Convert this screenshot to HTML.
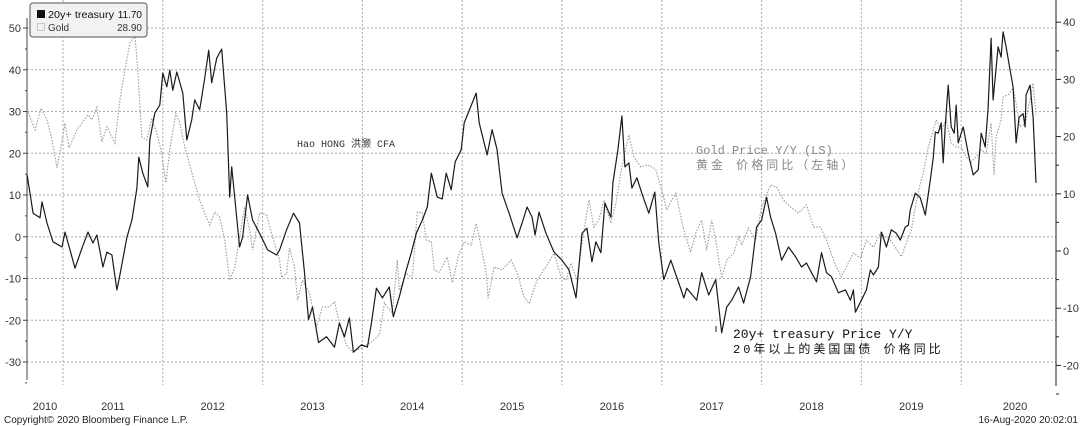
<!DOCTYPE html>
<html><head><meta charset="utf-8">
<style>
html,body{margin:0;padding:0;background:#fff;}
svg{display:block;font-family:"Liberation Sans","Noto Sans CJK SC",sans-serif;}
.mono{font-family:"Liberation Mono","Noto Sans CJK SC",monospace;}
</style></head>
<body>
<svg id="chart" width="1080" height="426" viewBox="0 0 1080 426">
  <g id="grid"></g>
  <g id="axes"></g>
  <g id="series"></g>
  <g>
    <rect x="30" y="3" width="117" height="34" rx="3" fill="#f2f2f2" stroke="#555" stroke-width="1"/>
    <rect x="37" y="10" width="8" height="8" fill="#111"/>
    <text x="48" y="18" font-size="10" fill="#111" textLength="66" lengthAdjust="spacingAndGlyphs">20y+ treasury</text>
    <text x="142" y="18" font-size="10" fill="#111" text-anchor="end">11.70</text>
    <rect x="37.5" y="23.5" width="7" height="7" fill="none" stroke="#999" stroke-dasharray="1 1"/>
    <text x="48" y="31" font-size="10" fill="#333">Gold</text>
    <text x="142" y="31" font-size="10" fill="#333" text-anchor="end">28.90</text>
  </g>
  <text class="mono" x="297" y="147" font-size="10" fill="#333">Hao HONG 洪灏 CFA</text>
  <text class="mono" x="696" y="154" font-size="12" fill="#888">Gold Price Y/Y (LS)</text>
  <text class="mono" x="696" y="169" font-size="12" fill="#888" letter-spacing="3">黄金 价格同比（左轴）</text>
  <line x1="716" y1="326" x2="716" y2="332" stroke="#222"/>
  <text class="mono" x="733" y="338" font-size="13" fill="#111">20y+ treasury Price Y/Y</text>
  <text class="mono" x="733" y="353" font-size="12" fill="#111" letter-spacing="3">20年以上的美国国债 价格同比</text>
  <text x="4" y="423" font-size="10" fill="#222">Copyright© 2020 Bloomberg Finance L.P.</text>
  <text x="1078" y="423" font-size="10" fill="#222" text-anchor="end">16-Aug-2020 20:02:01</text>
</svg>
<script>
// years since 2010 (fractional)
const treasuryTimes = [0.64,0.70,0.77,0.79,0.84,0.90,0.99,1.02,1.07,1.12,1.19,1.25,1.30,1.34,1.40,1.44,1.49,1.54,1.57,1.64,1.69,1.74,1.76,1.80,1.85,1.87,1.92,1.97,2.00,2.04,2.07,2.10,2.14,2.20,2.24,2.29,2.32,2.37,2.42,2.46,2.49,2.54,2.59,2.64,2.67,2.69,2.77,2.80,2.85,2.90,2.97,3.05,3.14,3.17,3.24,3.31,3.37,3.42,3.46,3.50,3.56,3.64,3.72,3.77,3.82,3.87,3.91,3.99,4.05,4.09,4.14,4.20,4.27,4.31,4.37,4.44,4.49,4.54,4.60,4.65,4.69,4.75,4.80,4.84,4.89,4.93,4.99,5.02,5.08,5.14,5.17,5.25,5.30,5.35,5.40,5.47,5.55,5.60,5.65,5.70,5.73,5.77,5.84,5.92,6.00,6.07,6.14,6.20,6.25,6.30,6.34,6.39,6.43,6.49,6.51,6.56,6.60,6.63,6.67,6.70,6.75,6.80,6.87,6.93,6.97,7.02,7.09,7.17,7.22,7.25,7.35,7.40,7.47,7.54,7.60,7.65,7.70,7.77,7.82,7.89,7.95,8.00,8.05,8.09,8.14,8.20,8.27,8.34,8.40,8.45,8.50,8.55,8.60,8.65,8.70,8.77,8.84,8.89,8.92,8.94,9.00,9.05,9.09,9.12,9.17,9.20,9.25,9.30,9.35,9.39,9.44,9.47,9.49,9.54,9.59,9.64,9.69,9.72,9.74,9.77,9.80,9.82,9.84,9.87,9.90,9.93,9.95,9.97,10.02,10.07,10.12,10.17,10.20,10.24,10.27,10.30,10.32,10.37,10.40,10.42,10.45,10.49,10.52,10.55,10.58,10.62,10.64,10.65,10.69,10.72,10.75];
const treasuryValues = [13.3,6.6,5.8,8.6,4.9,1.6,0.7,3.3,0.2,-3,0.5,3.3,1.4,2.8,-2.8,-0.2,-0.7,-6.8,-4.2,2.4,5.4,11,16.4,13.6,11.2,19.4,24.1,25.5,31.1,28.7,31.6,28.1,31.3,27.6,19.4,22.9,26.4,24.7,30.2,35.1,29.4,33.7,35.3,24.1,9.4,14.7,0.7,2.4,9.8,5.4,3.1,0.2,-0.7,0.2,3.7,6.6,4.9,-3.8,-12,-9.8,-16,-15,-16.8,-12.6,-15,-11.7,-17.7,-16.4,-16.8,-12.6,-6.5,-8.2,-6.3,-11.5,-8,-3.3,-0.3,3.1,5.4,7.7,13.6,9.4,9.1,13.6,10.7,15.6,17.7,22.4,25,27.6,22.4,16.8,21.2,17.7,10.1,6.6,2.3,4.9,7.7,5.9,2.8,6.8,3.1,-0.2,-1.6,-3.3,-8.2,3.1,4,-1.9,1.6,-0.3,8.4,5.9,11.9,17.7,23.6,14.7,15.4,11,12.8,10.1,6.6,10.3,1.4,-5,-1.6,-5.6,-8.2,-6.5,-8.6,-3.8,-7.7,-5,-14.3,-9.8,-8.6,-6.3,-9.1,-4.5,4.2,5.4,9.4,5.9,3.1,-1.6,0.7,-1,-2.8,-2.1,-3.8,-5.4,-0.3,-3.8,-4.5,-7.3,-6.8,-8.6,-6.8,-10.7,-8.6,-6.8,-3.3,-4.2,-2.8,3.3,0.7,3.7,3.1,1.9,4.2,4.5,7.2,10.1,9.3,6.3,12.4,16.4,20.8,20.6,22.4,15.4,21.7,29,21.7,20.6,25.5,18.9,21.7,17.1,13.3,14.2,20.6,18.2,25,37.2,26.4,35.7,33.9,38.3,35.7,31.6,28.7,18.9,23.4,24,21.7,27.3,29,23.4,11.9];
const goldTimes = [0.64,0.72,0.78,0.84,0.89,0.94,0.99,1.02,1.06,1.14,1.20,1.25,1.29,1.34,1.39,1.44,1.52,1.57,1.62,1.67,1.72,1.75,1.79,1.84,1.89,1.94,1.99,2.03,2.07,2.13,2.17,2.22,2.27,2.32,2.37,2.42,2.47,2.52,2.57,2.62,2.67,2.72,2.77,2.82,2.87,2.90,2.97,3.04,3.10,3.17,3.19,3.24,3.27,3.32,3.35,3.40,3.47,3.54,3.60,3.67,3.72,3.77,3.84,3.90,3.99,4.09,4.17,4.22,4.30,4.35,4.37,4.44,4.50,4.55,4.60,4.64,4.69,4.72,4.77,4.85,4.90,4.97,5.02,5.09,5.14,5.19,5.24,5.26,5.32,5.40,5.49,5.55,5.62,5.67,5.75,5.84,5.92,5.99,6.04,6.09,6.15,6.20,6.27,6.32,6.37,6.42,6.49,6.54,6.60,6.67,6.72,6.79,6.85,6.92,6.94,7.00,7.05,7.10,7.14,7.22,7.29,7.34,7.40,7.45,7.50,7.54,7.60,7.65,7.72,7.77,7.80,7.87,7.94,8.00,8.09,8.15,8.22,8.29,8.37,8.45,8.52,8.59,8.65,8.74,8.80,8.87,8.92,8.99,9.05,9.12,9.19,9.24,9.29,9.34,9.40,9.45,9.50,9.54,9.59,9.62,9.67,9.72,9.75,9.80,9.85,9.90,9.95,10.00,10.05,10.10,10.15,10.20,10.25,10.30,10.33,10.35,10.40,10.42,10.47,10.52,10.55,10.59,10.64,10.69,10.72,10.75];
const goldValues = [30.4,25.6,30.8,28,23.2,16.5,23,27.2,21.3,25.6,27.6,29.2,28,31,22.7,26.3,22.4,32.8,39.9,46.4,48.3,39.9,23.9,23.2,28.4,24.8,20,12.9,20.8,29.6,27.2,21.5,17.2,12.9,8.8,5.7,2.8,5.9,4.7,-0.8,-10.4,-7.5,0,7.1,1.6,-3.2,5.7,5.2,0,-5.6,-9.8,-8.7,-2.7,-7.2,-15.2,-10.4,-13.5,-21.6,-16.8,-16.8,-15.6,-20.6,-26,-27.6,-26.7,-25.2,-23.5,-15.9,-18.3,-5.6,-12.8,-8.7,-9.9,5.9,5.7,-0.8,-1.2,-8,-8.5,-4.9,-11,-4,-1.2,-2,3.2,-2.4,-8.7,-14.7,-7.2,-8,-5.6,-8.7,-14.4,-16,-10.4,-7.2,-4,-9.6,-10.4,-6.3,-10.4,-1.5,8.8,2.3,4,8.8,3.3,8,16.7,24.4,19.1,16.7,17.2,16.5,16,11.2,6.4,8.8,10.4,1.6,-3.7,0.9,4,-3.2,4,-0.8,-9.9,-5.6,-4,0,-2,2.1,-0.8,7.1,12.4,11.9,8.8,7.1,5.7,7.6,2.3,2.3,-0.8,-6.8,-9.6,-6.3,-3.9,-5.1,-0.8,-2.5,0.9,0,-0.8,-2.5,-4.8,-1.5,1.6,7.1,12.8,15.2,21.5,25.6,28,25.6,28,22.4,21.5,21.5,19.1,17.9,19.1,20.8,20,27.2,14.8,23.9,28,33.5,34,35.6,32,26.3,27.2,32.8,36.8,29.2];
const yearLabels = ["2010","2011","2012","2013","2014","2015","2016","2017","2018","2019","2020"];
const leftTicks = [50,40,30,20,10,0,-10,-20,-30];
const rightTicks = [40,30,20,10,0,-10,-20];

const NS = "http://www.w3.org/2000/svg";
const X0 = 27, X1 = 1056;
function xScale(t){ return 63 + (t - 1) * 99.8; }
function yLeft(v){ return 236.75 - v * 4.175; }
function yRight(v){ return 251 - v * 5.72; }
function mk(tag, attrs, parent){
  const el = document.createElementNS(NS, tag);
  for (const k in attrs) el.setAttribute(k, attrs[k]);
  parent.appendChild(el);
  return el;
}
const grid = document.getElementById('grid');
const axes = document.getElementById('axes');
const series = document.getElementById('series');

leftTicks.forEach(v => {
  const y = yLeft(v);
  const g = mk('line', {x1:X0, x2:X1, y1:y, y2:y, stroke:'#aaa', 'stroke-width':1, 'stroke-dasharray':'2 2'}, grid);
  
  
  const tk = mk('line', {x1:X0-4, x2:X0, y1:y, y2:y, stroke:'#444'}, axes);
  
  
  const tx = mk('text', {x:X0-6, y:y+4, 'font-size':11, fill:'#333', 'text-anchor':'end'}, axes);
  tx.textContent = v;
  
  
  const mv = v - 5;
  if (mv >= -35) {
    const m = mk('line', {x1:X0-2, x2:X0, y1:yLeft(mv), y2:yLeft(mv), stroke:'#444'}, axes);
    
    
  }
});
yearLabels.forEach((lab, i) => {
  const start = xScale(i), end = xScale(i + 1);
  if (i > 0) {
    const g = mk('line', {x1:start, x2:start, y1:0, y2:385, stroke:'#aaa', 'stroke-width':1, 'stroke-dasharray':'2 2'}, grid);
    
    
  }
  let cx = (Math.max(start, X0) + Math.min(end, 1045)) / 2;
  if (i === 0) cx = 45;
  if (i === yearLabels.length - 1) cx = 1015;
  const tx = mk('text', {x:cx, y:410, 'font-size':11, fill:'#333', 'text-anchor':'middle'}, axes);
  tx.textContent = lab;
  
  
});
const la = mk('line', {x1:X0, x2:X0, y1:18, y2:380, stroke:'#444'}, axes);


const ra = mk('line', {x1:X1, x2:X1, y1:0, y2:386, stroke:'#222'}, axes);


rightTicks.forEach(v => {
  const y = yRight(v);
  const tk = mk('line', {x1:X1, x2:X1+5, y1:y, y2:y, stroke:'#222'}, axes);
  
  
  const tx = mk('text', {x:X1+7, y:y+4, 'font-size':11, fill:'#333'}, axes);
  tx.textContent = v;
  
  
  const m = mk('line', {x1:X1, x2:X1+3, y1:yRight(v-5), y2:yRight(v-5), stroke:'#222'}, axes);
  
  
});
const gp = goldTimes.map((t, i) => xScale(t).toFixed(1) + ',' + yLeft(goldValues[i]).toFixed(1)).join(' ');
const gl = mk('polyline', {points:gp, fill:'none', stroke:'#9a9a9a', 'stroke-width':1.1, 'stroke-dasharray':'1.5 1.5'}, series);


const tp = treasuryTimes.map((t, i) => xScale(t).toFixed(1) + ',' + yRight(treasuryValues[i]).toFixed(1)).join(' ');
const tl = mk('polyline', {points:tp, fill:'none', stroke:'#1a1a1a', 'stroke-width':1.2, 'stroke-linejoin':'round'}, series);


</script>
</body></html>
